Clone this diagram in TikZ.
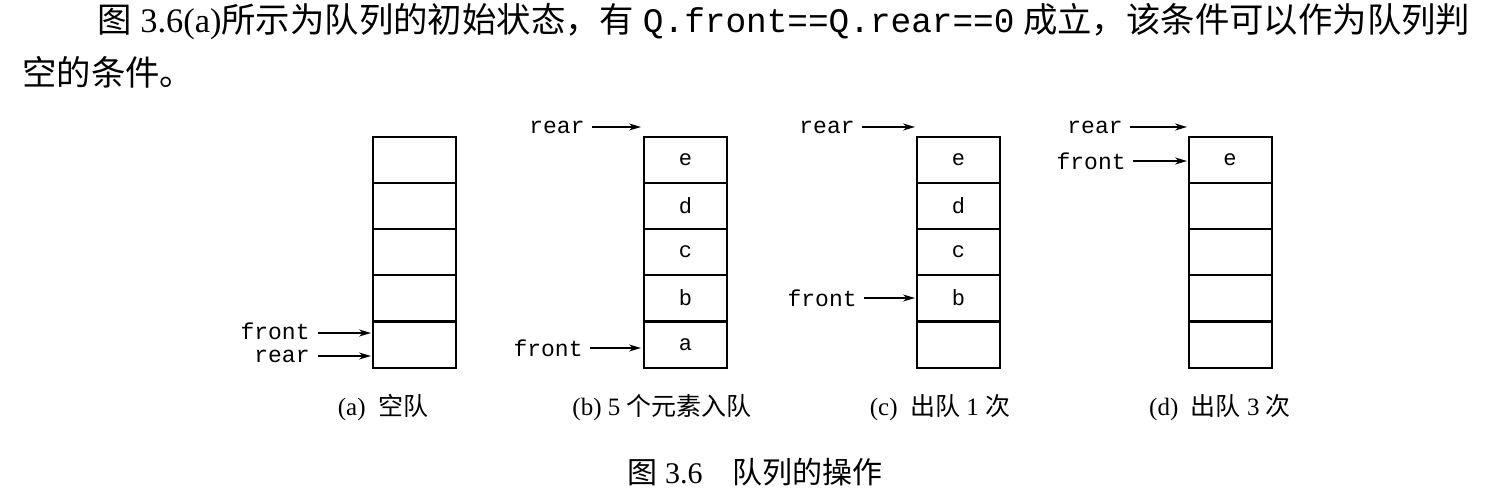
\documentclass[tikz,border=0pt]{standalone}
\usepackage{fontspec}
\usetikzlibrary{arrows.meta}
\setmainfont{Liberation Serif}
\setmonofont{Liberation Mono}
\newfontfamily\cjk{Noto Sans CJK SC}
\begin{document}
\begin{tikzpicture}[x=0.5pt,y=-0.5pt,
  cell/.style={draw,line width=1pt,minimum width=41.5pt,minimum height=23pt,inner sep=0pt,font=\ttfamily\fontsize{11}{11}\selectfont},
  lbl/.style={font=\ttfamily\fontsize{11.5}{11.5}\selectfont,inner sep=1pt},
  capt/.style={font=\fontsize{12.5}{14}\selectfont},
  arr/.style={-{Stealth[length=6pt,width=3.5pt]},line width=0.8pt}]
\useasboundingbox (0,0) rectangle (1498,502);
\node[anchor=west,font=\fontsize{17.2}{17.2}\selectfont,inner sep=0pt] (t1) at (97,22) {{\cjk 图} 3.6(a){\cjk 所示为队列的初始状态，有} \texttt{Q.front==Q.rear==0} {\cjk 成立，该条件可以作为队列判}};
\node[anchor=west,font=\fontsize{17.2}{17.2}\selectfont,inner sep=0pt] (t2) at (22,72) {\cjk 空的条件。};
% columns
\foreach \c/\x/\a/\b/\cc/\d/\e in {a/414/ / / / / ,b/685.5/a/b/c/d/e,c/958.5/ /b/c/d/e,d/1230/ / / / /e}{
  \node[cell] (\c1) at (\x,344.5) {\a};
  \node[cell] (\c2) at (\x,298) {\b};
  \node[cell] (\c3) at (\x,252) {\cc};
  \node[cell] (\c4) at (\x,206) {\d};
  \node[cell] (\c5) at (\x,160) {\e};
}
% (a)
\node[lbl,anchor=east] (af) at (312,331) {front};
\node[lbl,anchor=east] (ar) at (312,356) {rear};
\coordinate (afe) at (371,333); \coordinate (are) at (371,356);
\draw[arr] (af.east) ++(6,2) -- (afe);
\draw[arr] (ar.east) ++(6,0) -- (are);
% (b)
\node[lbl,anchor=east] (br) at (587,127) {rear};
\node[lbl,anchor=east] (bf) at (585,348) {front};
\coordinate (bre) at (641,127); \coordinate (bfe) at (641,348);
\draw[arr] (br.east) ++(5,0) -- (bre);
\draw[arr] (bf.east) ++(5,0) -- (bfe);
% (c)
\node[lbl,anchor=east] (cr) at (857,127) {rear};
\node[lbl,anchor=east] (cf) at (859,298) {front};
\coordinate (cre) at (915,127); \coordinate (cfe) at (915,298);
\draw[arr] (cr.east) ++(5,0) -- (cre);
\draw[arr] (cf.east) ++(5,0) -- (cfe);
% (d)
\node[lbl,anchor=east] (dr) at (1125,127) {rear};
\node[lbl,anchor=east] (df) at (1128,161) {front};
\coordinate (dre) at (1187,127); \coordinate (dfe) at (1187,161);
\draw[arr] (dr.east) ++(5,0) -- (dre);
\draw[arr] (df.east) ++(5,0) -- (dfe);
% captions
\node[capt] (ca) at (383,408) {(a)\ \ {\cjk 空队}};
\node[capt] (cb) at (662,408) {(b) 5 {\cjk 个元素入队}};
\node[capt] (cc) at (940,408) {(c)\ \ {\cjk 出队} 1 {\cjk 次}};
\node[capt] (cd) at (1220,408) {(d)\ \ {\cjk 出队} 3 {\cjk 次}};
\node[font=\fontsize{15}{15}\selectfont] (fig) at (755,472) {{\cjk 图} 3.6\quad{\cjk 队列的操作}};
\end{tikzpicture}
\end{document}
